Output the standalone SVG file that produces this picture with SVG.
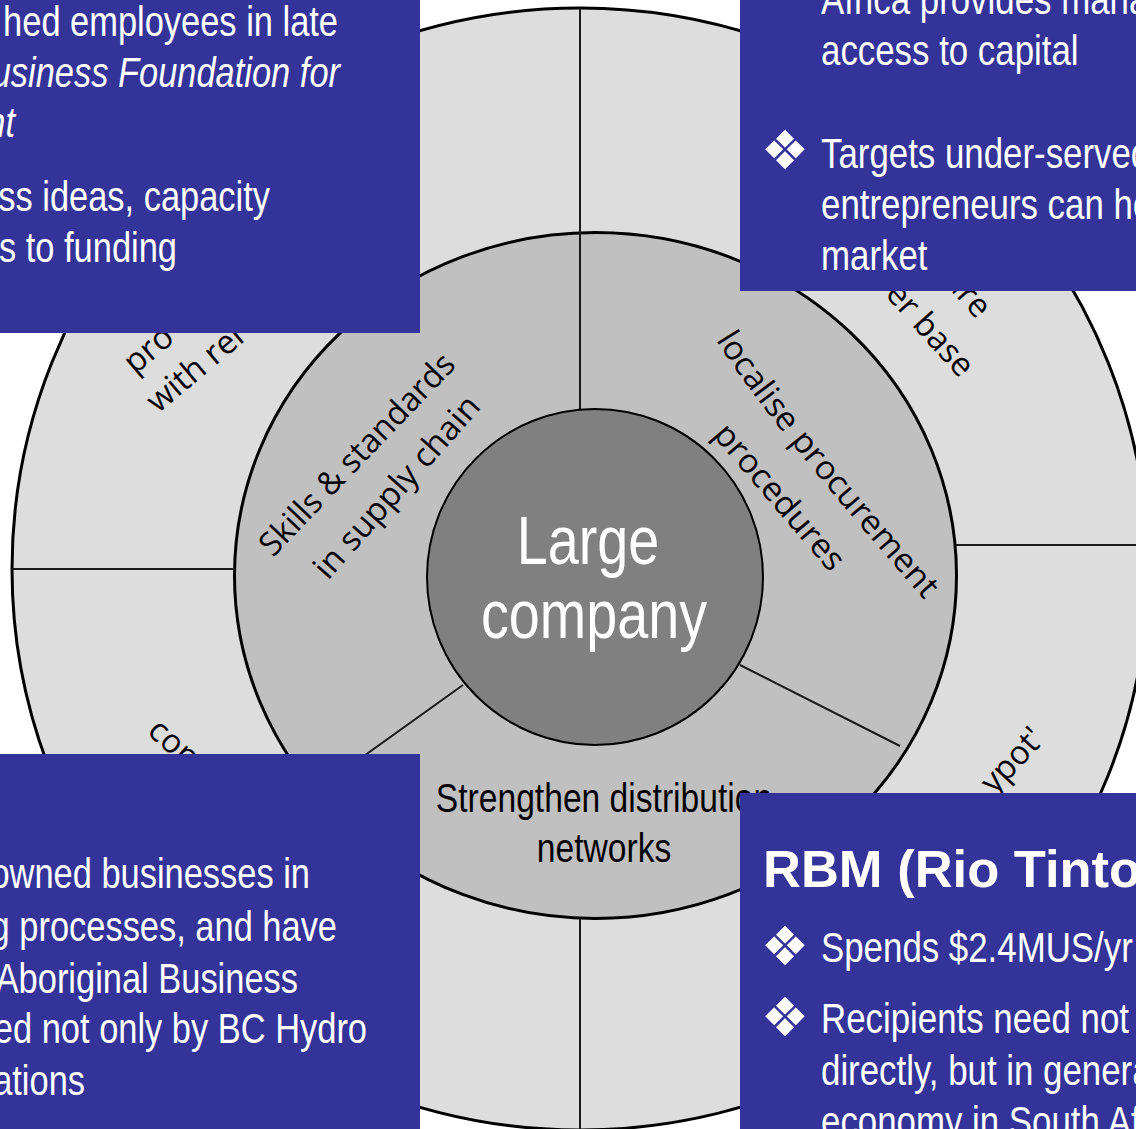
<svg xmlns="http://www.w3.org/2000/svg" width="1136" height="1129" viewBox="0 0 1136 1129">
<style>
.bg{fill:#ffffff}
.outer{fill:#dddddd;stroke:#000;stroke-width:3}
.middle{fill:#c0c0c0;stroke:#000;stroke-width:3}
.inner{fill:#808080;stroke:#000;stroke-width:2}
.div{stroke:#1a1a1a;stroke-width:2;fill:none}
.box{fill:#343399}
.bt{font-family:'Liberation Sans',Arial,sans-serif;font-size:42px;fill:#fff}
.it{font-style:italic}
.ttl{font-family:'Liberation Sans',Arial,sans-serif;font-weight:bold;font-size:52.5px;fill:#fff}
.bul{font-family:'DejaVu Sans',sans-serif;font-size:54px;fill:#fff}
.lbl{font-family:'Open Sans','Noto Sans',sans-serif;font-size:33px;fill:#000}
.nar{font-family:'Liberation Sans',Arial,sans-serif;font-size:41px;fill:#000;text-anchor:middle}
.ctr{font-family:'Liberation Sans',Arial,sans-serif;font-size:68px;fill:#fff;text-anchor:middle}
.e{text-anchor:end}
</style>
<defs>
<path id="p-localise" d="M716,340 Q761,414 926,602"/>
</defs>
<rect class="bg" x="0" y="0" width="1136" height="1129"/>

<g id="outer-ring">
<ellipse class="outer" cx="580" cy="569" rx="568" ry="561"/>
</g>
<g id="middle-ring">
<ellipse class="middle" cx="595.5" cy="575.5" rx="361" ry="343"/>
</g>
<g id="connectors">
<path class="div" d="M580,8 V233"/>
<path class="div" d="M580,918 V1130"/>
<path class="div" d="M12,569 H235"/>
<path class="div" d="M956,545 H1148"/>
<path class="div" d="M580,233 V410"/>
<path class="div" d="M463,685 L315,791"/>
<path class="div" d="M740,665 L900,746"/>
</g>
<g id="center">
<circle class="inner" cx="595" cy="577" r="168"/>
<text class="ctr" transform="translate(588,564) scale(0.82,1)">Large</text>
<text class="ctr" transform="translate(594,638) scale(0.82,1)">company</text>
</g>

<g id="seg-skills">
<text class="lbl" transform="translate(273,558) rotate(-46.2)" textLength="266" lengthAdjust="spacingAndGlyphs">Skills &amp; standards</text>
<text class="lbl" transform="translate(328,581) rotate(-48.4)" textLength="232" lengthAdjust="spacingAndGlyphs">in supply chain</text>
</g>
<g id="seg-localise">
<text class="lbl" textLength="334" lengthAdjust="spacingAndGlyphs"><textPath href="#p-localise">localise procurement</textPath></text>
<text class="lbl" transform="translate(712,435) rotate(49.4)" textLength="182" lengthAdjust="spacingAndGlyphs">procedures</text>
</g>
<g id="seg-distribution">
<text class="nar" transform="translate(604,812) scale(0.82,1)">Strengthen distribution</text>
<text class="nar" transform="translate(604,862) scale(0.82,1)">networks</text>
</g>
<g id="outer-labels">
<text class="lbl" transform="translate(135,375) rotate(-40)">pro</text>
<text class="lbl" transform="translate(158,414) rotate(-40)">with rel</text>
<text class="lbl" transform="translate(977,320) rotate(48)" text-anchor="end">are</text>
<text class="lbl" transform="translate(960,379) rotate(48)" text-anchor="end">er base</text>
<text class="lbl" transform="translate(146,733) rotate(42)">con</text>
<text class="lbl" transform="translate(1046,740) rotate(-47)" text-anchor="end">ypot'</text>
</g>

<g id="box-top-left">
<rect class="box" x="0" y="0" width="420" height="333"/>
<text class="bt e" transform="translate(338,36) scale(0.82,1)">hed employees in late</text>
<text class="bt it e" transform="translate(340,87) scale(0.82,1)">usiness Foundation for</text>
<text class="bt it e" transform="translate(15,137) scale(0.82,1)">nt</text>
<text class="bt e" transform="translate(270,211) scale(0.82,1)">ss ideas, capacity</text>
<text class="bt e" transform="translate(177,262) scale(0.82,1)">s to funding</text>
</g>
<g id="box-top-right">
<rect class="box" x="740" y="0" width="396" height="291"/>
<text class="bt" transform="translate(821,14) scale(0.83,1)">Africa provides mana</text>
<text class="bt" transform="translate(821,65) scale(0.83,1)">access to capital</text>
<text class="bul" x="785" y="169" text-anchor="middle">❖</text>
<text class="bt" transform="translate(821,168) scale(0.83,1)">Targets under-served</text>
<text class="bt" transform="translate(821,219) scale(0.83,1)">entrepreneurs can he</text>
<text class="bt" transform="translate(821,270) scale(0.83,1)">market</text>
</g>
<g id="box-bottom-left">
<rect class="box" x="0" y="754" width="420" height="375"/>
<text class="bt e" transform="translate(310,888) scale(0.82,1)">owned businesses in</text>
<text class="bt e" transform="translate(337,941) scale(0.82,1)">g processes, and have</text>
<text class="bt e" transform="translate(298,993) scale(0.82,1)">Aboriginal Business</text>
<text class="bt e" transform="translate(367,1043) scale(0.82,1)">ed not only by BC Hydro</text>
<text class="bt e" transform="translate(85,1095) scale(0.82,1)">ations</text>
</g>
<g id="box-bottom-right">
<rect class="box" x="740" y="793" width="396" height="336"/>
<text class="ttl" x="763" y="887">RBM (Rio Tinto</text>
<text class="bul" x="785" y="965" text-anchor="middle">❖</text>
<text class="bt" transform="translate(821,962) scale(0.83,1)">Spends $2.4MUS/yr</text>
<text class="bul" x="785" y="1036" text-anchor="middle">❖</text>
<text class="bt" transform="translate(821,1033) scale(0.83,1)">Recipients need not</text>
<text class="bt" transform="translate(821,1085) scale(0.83,1)">directly, but in genera</text>
<text class="bt" transform="translate(821,1136) scale(0.83,1)">economy in South Af</text>
</g>
</svg>
